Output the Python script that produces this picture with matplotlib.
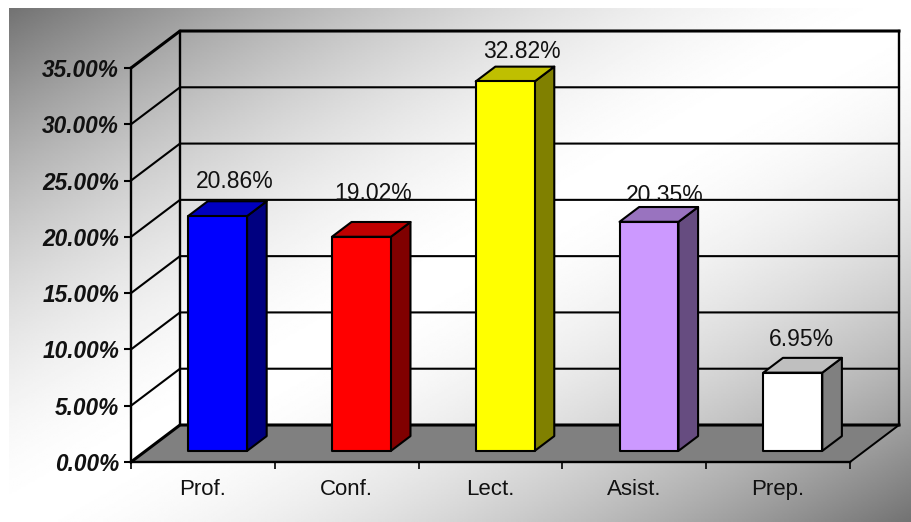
import numpy as np
import matplotlib
matplotlib.use('Agg')
import matplotlib.pyplot as plt
from matplotlib.patches import Polygon, Rectangle

plt.rcParams['font.family'] = ['Liberation Sans', 'DejaVu Sans']

categories = ['Prof.', 'Conf.', 'Lect.', 'Asist.', 'Prep.']
values = [20.86, 19.02, 32.82, 20.35, 6.95]
y_ticks = [0, 5, 10, 15, 20, 25, 30, 35]

front_colors = ['#0000ff', '#ff0000', '#ffff00', '#cc99ff', '#ffffff']
top_colors = ['#0000bf', '#bf0000', '#bfbf00', '#9973bf', '#bfbfbf']
side_colors = ['#000080', '#800000', '#808000', '#664c80', '#808080']

# label placing, in percent points above the bar and categories to the right
label_lift = [1.8, 2.5, 1.35, 1.05, 1.6]
label_shift = [-0.02, -0.055, -0.02, -0.03, -0.075]

W, H = 912, 522
fig = plt.figure(figsize=(W / 100, H / 100), dpi=100, facecolor='white')

# diagonal grey-white-grey background
bg = fig.add_axes([9 / W, 0, (W - 9) / W, (H - 8) / H], zorder=0)
u, v = np.meshgrid(np.linspace(0, 1, 400), np.linspace(0, 1, 300))
t = (u + v) / 2
shade = 1 - np.abs(t - 0.5) * 2
bg.imshow(1 - 0.55 * (1 - shade) ** 1.7, cmap='gray', vmin=0, vmax=1,
          aspect='auto', interpolation='bilinear')
bg.axis('off')

ax = fig.add_axes([131 / W, (H - 462) / H, 719 / W, 394 / H], zorder=1)
ax.patch.set_visible(False)
ax.set_xlim(0, 5)
ax.set_ylim(0, 35)

# depth of the fake 3d box in data units
DX = 49 / 143.8
DY = 37 / (394 / 35)


def proj(x, y, d):
    return (x + d * DX, y + d * DY)


def face(pts, color, z):
    ax.add_patch(Polygon(pts, closed=True, facecolor=color, edgecolor='black',
                         linewidth=1.5, joinstyle='round', clip_on=False, zorder=z))


# floor
ax.add_patch(Polygon([proj(0, 0, 0), proj(5, 0, 0), proj(5, 0, 1), proj(0, 0, 1)],
                     closed=True, facecolor='#808080', edgecolor='none',
                     clip_on=False, zorder=1))

# walls and grid lines
for tick in y_ticks:
    lw = 1.5
    if tick == 0 or tick == y_ticks[-1]:
        lw = 2.2
    xs, ys = zip(proj(0, tick, 0), proj(0, tick, 1), proj(5, tick, 1))
    ax.plot(xs, ys, color='black', lw=lw, clip_on=False, zorder=2)
xs, ys = zip(proj(0, 0, 1), proj(0, 35, 1))
ax.plot(xs, ys, color='black', lw=1.7, clip_on=False, zorder=2)
xs, ys = zip(proj(5, 0, 1), proj(5, 35, 1))
ax.plot(xs, ys, color='black', lw=1.7, clip_on=False, zorder=2)
xs, ys = zip(proj(5, 0, 0), proj(5, 0, 1))
ax.plot(xs, ys, color='black', lw=1.4, clip_on=False, zorder=2)

# bars
bar_w = 0.41
d0, d1 = 0.3, 0.7
for i, val in enumerate(values):
    x0 = i + 0.5 - bar_w / 2
    x1 = i + 0.5 + bar_w / 2
    face([proj(x1, 0, d0), proj(x1, 0, d1), proj(x1, val, d1), proj(x1, val, d0)],
         side_colors[i], 3)
    face([proj(x0, val, d0), proj(x1, val, d0), proj(x1, val, d1), proj(x0, val, d1)],
         top_colors[i], 3)
    face([proj(x0, 0, d0), proj(x1, 0, d0), proj(x1, val, d0), proj(x0, val, d0)],
         front_colors[i], 4)

# value labels, the two around 20% get cut at the grid line like the original
for i, val in enumerate(values):
    px, py = proj(i + 0.5 + label_shift[i], val, d1)
    txt = ax.text(px, py + label_lift[i], '%.2f%%' % val, ha='center', va='center',
                  fontsize=16.5, color='#111111', zorder=5, clip_on=False)
    if i == 1 or i == 3:
        x_low, y_low = proj(0, 20, 1)
        clip = Rectangle((x_low, y_low), 5, 15, transform=ax.transData)
        txt.set_clip_path(clip)
        txt.set_clip_on(True)

# axes
for name in ['top', 'right']:
    ax.spines[name].set_visible(False)
for name in ['left', 'bottom']:
    ax.spines[name].set_linewidth(1.7)
    ax.spines[name].set_zorder(6)

ax.set_yticks(y_ticks)
ax.set_yticklabels(['%.2f%%' % v for v in y_ticks], fontsize=16.3, fontweight='bold',
                   fontstyle='italic', color='#111111')
ax.tick_params(axis='y', length=5, width=1.5, pad=3.5)
ax.set_xticks(np.arange(6))
ax.set_xticklabels([])
ax.tick_params(axis='x', which='major', length=5, width=1.2)
ax.set_xticks(np.arange(5) + 0.5, minor=True)
ax.set_xticklabels(categories, minor=True, fontsize=16, color='#111111')
ax.tick_params(axis='x', which='minor', length=0, pad=12.5)

fig.savefig('out.png', dpi=100)
